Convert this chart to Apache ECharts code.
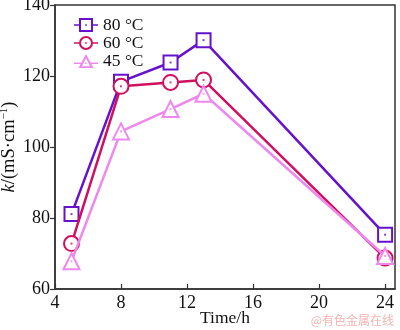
<!DOCTYPE html>
<html><head><meta charset="utf-8">
<script src="https://cdn.jsdelivr.net/npm/echarts@6/dist/echarts.min.js"></script>
<style>html,body{margin:0;padding:0;background:#fff}#c{width:400px;height:330px}</style>
</head><body><div id="c"></div>
<script>
const times = [5, 8, 11, 13, 24];
const xTicks = [4, 8, 12, 16, 20, 24];
const yTicks = [60, 80, 100, 120, 140];
const seriesNames = ['80 °C', '60 °C', '45 °C'];
const k80 = [81.1, 118.4, 123.8, 130.1, 75.3];
const k60 = [72.8, 117.1, 118.2, 118.9, 68.7];
const k45 = [67.8, 104.4, 110.7, 115.0, 69.3];

const colors = ['#6612CC', '#D0105E', '#EE88EE'];
const symbols = ['rect', 'circle', 'triangle'];
const sizes = [14, 15, 16];
const icons = [
  'path://M0,6.2H5V0H19V6.2H24V7.8H19V14H5V7.8H0Z M7,2V12H17V2Z M11.2,6.2H12.8V7.8H11.2Z',
  'path://M0,6.2H5.2V7.8H0Z M18.8,6.2H24V7.8H18.8Z M5,7A7,7 0 1,1 19,7A7,7 0 1,1 5,7Z M7,7A5,5 0 1,0 17,7A5,5 0 1,0 7,7Z M11.2,6.2H12.8V7.8H11.2Z',
  'path://M0,8.6H7V10H0Z M17,8.6H24V10H17Z M12,0L19.5,14L4.5,14Z M12,4.2L7.9,12.3L16.1,12.3Z M11.3,8.6H12.7V10H11.3Z'
];
const allData = [k80, k60, k45];

const serif = '"Liberation Serif", "Times New Roman", serif';
const series = [];
allData.forEach((arr, i) => {
  const d = times.map((t, j) => [t, arr[j]]);
  series.push({
    name: seriesNames[i], type: 'line', data: d,
    symbol: symbols[i], symbolSize: sizes[i], showAllSymbol: true,
    lineStyle: {color: colors[i], width: 2.5},
    itemStyle: {color: '#fff', borderColor: colors[i], borderWidth: 2},
    z: 2 + i * 2, animation: false
  });
  series.push({
    name: seriesNames[i] + ' dot', type: 'scatter', data: d,
    symbol: 'rect', symbolSize: 2, itemStyle: {color: colors[i]},
    z: 3 + i * 2, silent: true, animation: false
  });
});

const chart = echarts.init(document.getElementById('c'));
chart.setOption({
  animation: false,
  backgroundColor: '#fff',
  grid: {left: 55, right: 5, top: 5, bottom: 41, containLabel: false, outerBoundsMode: 'none',
    show: true, borderColor: '#333', borderWidth: 1.5, backgroundColor: 'transparent'},
  legend: {
    orient: 'vertical', left: 74, top: 16, padding: 0, itemGap: 0, itemWidth: 24, itemHeight: 14,
    textStyle: {fontFamily: serif, fontSize: 17.5, color: '#111'},
    data: seriesNames.map((n, i) => ({name: n, icon: icons[i], itemStyle: {color: colors[i], borderWidth: 0}}))
  },
  xAxis: {
    type: 'value', min: 4, max: 24.6, interval: 4,
    name: 'Time/h', nameLocation: 'middle', nameGap: 20, nameMoveOverlap: false,
    nameTextStyle: {fontFamily: serif, fontSize: 17.5, color: '#111'},
    axisLine: {lineStyle: {color: '#333', width: 1.5}},
    axisTick: {inside: true, length: 5, customValues: xTicks, lineStyle: {color: '#333', width: 1.2}},
    axisLabel: {customValues: xTicks, fontFamily: serif, fontSize: 18, color: '#111', margin: 5},
    splitLine: {show: false}
  },
  yAxis: {
    type: 'value', min: 60, max: 140, interval: 20,
    name: '{i|k}/(mS·cm{sup|−1})', nameLocation: 'middle', nameGap: 36, nameMoveOverlap: false,
    nameTextStyle: {fontFamily: serif, fontSize: 18.5, color: '#111',
      rich: {
        i: {fontStyle: 'italic', fontFamily: serif, fontSize: 18.5, color: '#111'},
        sup: {fontFamily: serif, fontSize: 11, color: '#111', verticalAlign: 'top', lineHeight: 20}
      }},
    axisLine: {lineStyle: {color: '#333', width: 1.5}},
    axisTick: {inside: false, length: 5, customValues: yTicks, lineStyle: {color: '#333', width: 1.2}},
    axisLabel: {customValues: yTicks, fontFamily: serif, fontSize: 18, color: '#111', margin: 5},
    splitLine: {show: false}
  },
  graphic: [{
    type: 'text', right: 6, bottom: 4,
    style: {text: '@有色金属在线', fill: '#F2B4B4', font: '12px "Noto Sans CJK SC"'}
  }],
  series: series
});
</script></body></html>
